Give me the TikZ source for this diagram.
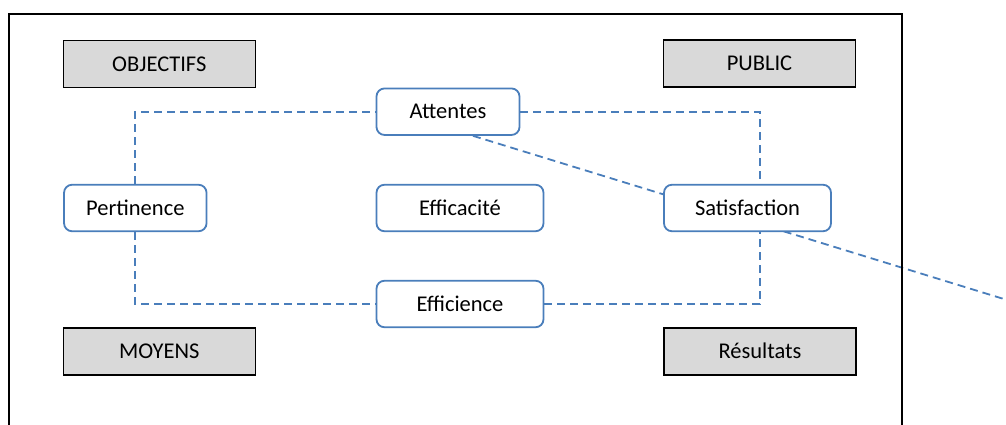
\documentclass[tikz,border=0pt]{standalone}
\usepackage{fontspec}
\setmainfont{Carlito}
\usetikzlibrary{backgrounds}
\definecolor{linkblue}{HTML}{4A7EBB}
\definecolor{boxgray}{HTML}{D9D9D9}
\tikzset{
  every node/.style={font=\fontsize{22.5}{27}\selectfont, text=black, inner sep=0pt},
  pillar/.style={draw=black, line width=1.6pt, fill=boxgray,
    minimum width=192pt, minimum height=47pt},
  crit/.style={draw=linkblue, line width=1.8pt, fill=white,
    rounded corners=8pt, minimum height=46.5pt},
  link/.style={draw=linkblue, line width=1.8pt, dash pattern=on 8pt off 5pt},
  frame/.style={draw=black, line width=2.2pt}
}
\begin{document}
\begin{tikzpicture}[x=1pt,y=-1pt]
  \useasboundingbox (0,0) rectangle (1006,425);

  % outer frame (its lower edge lies below the page)
  \draw[frame] (9,440) -- (9,14) -- (902,14) -- (902,440);

  % the four pillars
  \node[pillar] (obj) at (159.3,64) {OBJECTIFS};
  \node[pillar] (pub) at (759.5,63.5) {PUBLIC};
  \node[pillar] (moy) at (159.3,351.3) {MOYENS};
  \node[pillar] (res) at (760,351.2) {Résultats};

  % the evaluation criteria
  \node[crit, minimum width=143pt] (att) at (448,111.7) {Attentes};
  \node[crit, minimum width=142.5pt] (per) at (135.3,208) {Pertinence};
  \node[crit, minimum width=167pt] (eff) at (460,208) {Efficacité};
  \node[crit, minimum width=167pt] (sat) at (747.5,208) {Satisfaction};
  \node[crit, minimum width=167pt] (efi) at (460,304) {Efficience};

  \coordinate (tr) at (760,111.7);
  \coordinate (br) at (760,304);
  \coordinate (far) at (1012,301.5);

  \begin{pgfonlayer}{background}
    \draw[link] (per.north) |- (att.west);
    \draw[link] (att.east) -- (tr) -- (tr |- sat.north);
    \draw[link] (per.south) |- (efi.west);
    \draw[link] (efi.east) -- (br) -- (br |- sat.south);
    \draw[link] ([xshift=25pt]att.south) -- (far);
  \end{pgfonlayer}
\end{tikzpicture}
\end{document}
